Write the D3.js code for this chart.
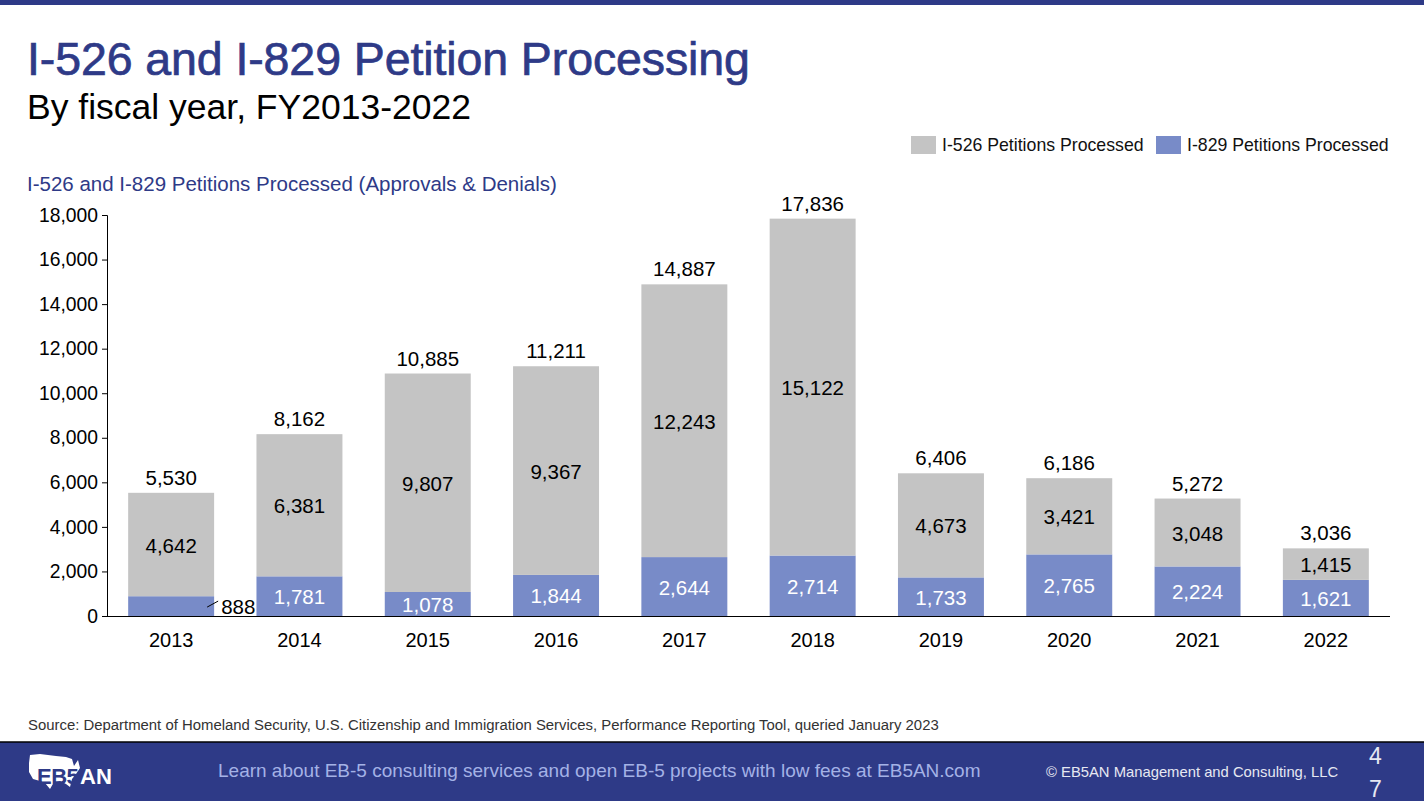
<!DOCTYPE html>
<html><head><meta charset="utf-8">
<script src="https://cdn.jsdelivr.net/npm/d3@7"></script>
<style>
html,body{margin:0;padding:0;background:#fff;}
svg{display:block;font-family:"Liberation Sans",Arial,sans-serif;}
</style></head>
<body>
<svg id="c" width="1424" height="801"></svg>
<script>
const years = ["2013","2014","2015","2016","2017","2018","2019","2020","2021","2022"];
const i829 = [888,1781,1078,1844,2644,2714,1733,2765,2224,1621];
const i526 = [4642,6381,9807,9367,12243,15122,4673,3421,3048,1415];
const yTicks = [0,2000,4000,6000,8000,10000,12000,14000,16000,18000];
const seriesNames = ["I-526 Petitions Processed","I-829 Petitions Processed"];

const navy = "#2E3A87", gray = "#C4C4C4", blue = "#788BC8";
const svg = d3.select("#c");
const fmt = d3.format(",");

// top band
svg.append("rect").attr("x",0).attr("y",0).attr("width",1424).attr("height",5).attr("fill",navy);

// titles
svg.append("text").attr("x",27).attr("y",75).attr("fill",navy).attr("font-size",46.5).attr("letter-spacing",-0.1)
  .attr("stroke",navy).attr("stroke-width",0.7)
  .text("I-526 and I-829 Petition Processing");
svg.append("text").attr("x",27).attr("y",119).attr("fill","#000").attr("font-size",35.5)
  .text("By fiscal year, FY2013-2022");
svg.append("text").attr("x",27).attr("y",191).attr("fill",navy).attr("font-size",20.5)
  .text("I-526 and I-829 Petitions Processed (Approvals & Denials)");

// legend
const leg = [{n:seriesNames[0],c:gray,x:911,tx:942},{n:seriesNames[1],c:blue,x:1156,tx:1187}];
leg.forEach(l=>{
  svg.append("rect").attr("x",l.x).attr("y",136).attr("width",25).attr("height",18).attr("fill",l.c);
  svg.append("text").attr("x",l.tx).attr("y",151).attr("font-size",17.7).attr("fill","#111").text(l.n);
});

// scales
const x = d3.scaleBand().domain(years).range([107,1390]).paddingInner(0.33).paddingOuter(0.165);
const y = d3.scaleLinear().domain([0,18000]).range([616,215]);

const data = years.map((yr,i)=>({year:yr,a:i829[i],b:i526[i],t:i829[i]+i526[i]}));

// bars
const g = svg.append("g");
g.selectAll("rect.b829").data(data).join("rect")
  .attr("x",d=>x(d.year)).attr("width",x.bandwidth())
  .attr("y",d=>y(d.a)).attr("height",d=>y(0)-y(d.a)).attr("fill",blue);
g.selectAll("rect.b526").data(data).join("rect")
  .attr("x",d=>x(d.year)).attr("width",x.bandwidth())
  .attr("y",d=>y(d.t)).attr("height",d=>y(d.a)-y(d.t)).attr("fill",gray);

// y axis
const ya = svg.append("g").attr("transform","translate(107,0)")
  .call(d3.axisLeft(y).tickValues(yTicks).tickFormat(fmt).tickSizeOuter(0).tickSize(5));
ya.select(".domain").attr("stroke","#000");
ya.selectAll("text").attr("font-size",19.3).attr("fill","#000").attr("x",-9)
  .attr("font-family","Liberation Sans, Arial, sans-serif");

// x axis
const xa = svg.append("g").attr("transform","translate(0,616)")
  .call(d3.axisBottom(x).tickSize(0).tickSizeOuter(0));
xa.select(".domain").attr("stroke","#000").attr("d","M107,0.5H1390");
xa.selectAll("text").attr("font-size",20).attr("fill","#000").attr("dy","1.4em")
  .attr("font-family","Liberation Sans, Arial, sans-serif");

// labels
const fs = 20.5;
svg.append("g").attr("font-size",fs).attr("text-anchor","middle").selectAll("text").data(data).join("text")
  .attr("x",d=>x(d.year)+x.bandwidth()/2).attr("y",d=>y(d.t)-8).attr("fill","#000").text(d=>fmt(d.t));
svg.append("g").attr("font-size",fs).attr("text-anchor","middle").selectAll("text").data(data).join("text")
  .attr("x",d=>x(d.year)+x.bandwidth()/2).attr("y",d=>(y(d.t)+y(d.a))/2+8).attr("fill","#000").text(d=>fmt(d.b));
svg.append("g").attr("font-size",fs).attr("text-anchor","middle").selectAll("text").data(data.filter((d,i)=>i>0)).join("text")
  .attr("x",d=>x(d.year)+x.bandwidth()/2).attr("y",d=>(y(d.a)+y(0))/2+8).attr("fill","#fff").text(d=>fmt(d.a));
// 2013 I-829 label outside with leader
const d0 = data[0];
const bx = x(d0.year)+x.bandwidth();
const my = (y(d0.a)+y(0))/2;
svg.append("line").attr("x1",bx-7).attr("y1",my+1).attr("x2",bx+4).attr("y2",my-5)
  .attr("stroke","#000").attr("stroke-width",1);
svg.append("text").attr("x",bx+7).attr("y",my+8).attr("font-size",fs).attr("fill","#000").text(fmt(d0.a));

// source
svg.append("text").attr("x",28).attr("y",730).attr("font-size",14.9).attr("fill","#333")
  .text("Source: Department of Homeland Security, U.S. Citizenship and Immigration Services, Performance Reporting Tool, queried January 2023");

// footer
svg.append("rect").attr("x",0).attr("y",742).attr("width",1424).attr("height",59).attr("fill",navy);
svg.append("line").attr("x1",0).attr("x2",1424).attr("y1",742).attr("y2",742).attr("stroke","#000").attr("stroke-width",1.5);
// logo: rough US silhouette
svg.append("path").attr("fill","#fff")
  .attr("d","M30,755 L40,754 L56,756 L66,757 L72,759 L74,766 L78,760 L80,768 L76,774 L72,779 L70,787 L66,784 L60,781 L54,782 L50,789 L45,783 L40,781 L33,779 L29,772 L29,763 Z");
svg.append("text").attr("x",37).attr("y",784).attr("font-size",22).attr("font-weight","bold").attr("fill",navy)
  .attr("letter-spacing",-0.5).text("EB5");
svg.append("text").attr("x",80).attr("y",784).attr("font-size",22).attr("font-weight","bold").attr("fill","#fff")
  .text("AN");
svg.append("text").attr("x",218).attr("y",777).attr("font-size",19).attr("fill","#A4B2E6")
  .text("Learn about EB-5 consulting services and open EB-5 projects with low fees at EB5AN.com");
svg.append("text").attr("x",1046).attr("y",777).attr("font-size",14.8).attr("fill","#E6E8F2")
  .text("© EB5AN Management and Consulting, LLC");
svg.append("text").attr("x",1369).attr("y",764).attr("font-size",23).attr("fill","#E6E8F2").text("4");
svg.append("text").attr("x",1369).attr("y",797).attr("font-size",23).attr("fill","#E6E8F2").text("7");
</script>
</body></html>
